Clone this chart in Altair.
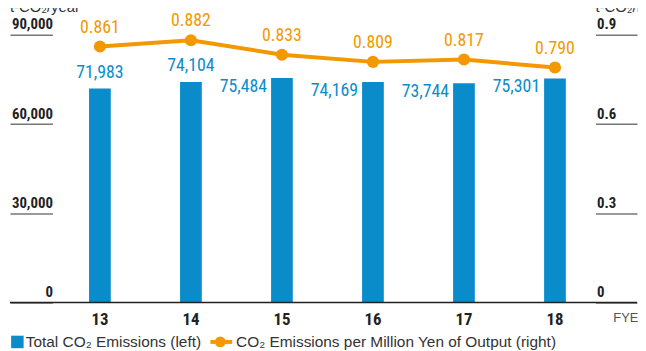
import altair as alt
import pandas as pd

years = ["13", "14", "15", "16", "17", "18"]
emissions = [71983, 74104, 75484, 74169, 73744, 75301]
intensity = [0.861, 0.882, 0.833, 0.809, 0.817, 0.790]
label_above = ["13", "14"]

left_ticks = [0, 30000, 60000, 90000]
right_ticks = [0, 0.3, 0.6, 0.9]
unit_left = "t-CO₂/year"
unit_right = "t-CO₂/million yen"
x_title = "FYE"
legend_bar = "Total CO₂ Emissions (left)"
legend_line = "CO₂ Emissions per Million Yen of Output (right)"

BLUE = "#0a8ccb"
ORANGE = "#f39800"
COND = "Liberation Sans Narrow, Roboto Condensed, DejaVu Sans Condensed, Roboto, sans-serif"
REG = "Liberation Sans, Helvetica, Arial, sans-serif"

df = pd.DataFrame({"year": years, "emissions": emissions, "intensity": intensity})
df["emis_label"] = [f"{v:,}" for v in emissions]
df["int_label"] = [f"{v:.3f}" for v in intensity]

W, H = 553, 271
base = alt.Chart(df)

x = alt.X("year:N", sort=years, title=None,
          axis=alt.Axis(labelFont=COND, labelFontSize=17, labelFontWeight="bold",
                        labelColor="#222", labelPadding=9, ticks=False, domain=False,
                        labelAngle=0),
          scale=alt.Scale(paddingInner=0, paddingOuter=0))

y_left = alt.Y("emissions:Q", title=None,
               scale=alt.Scale(domain=[0, 90000], nice=False),
               axis=alt.Axis(values=left_ticks, format=",d", orient="left", domain=False,
                             grid=False, tickSize=43, tickColor="#777", tickWidth=1.5,
                             offset=2, labelPadding=-43, labelAlign="right",
                             labelBaseline="bottom", labelOffset=-3,
                             labelFont=COND, labelFontSize=15, labelFontWeight="bold",
                             labelColor="#222"))

bars = base.mark_bar(color=BLUE, size=22).encode(x=x, y=y_left)
bar_text_above = base.transform_filter(
    alt.FieldOneOfPredicate(field="year", oneOf=label_above)
).mark_text(color=BLUE, font=COND, fontSize=18, baseline="bottom", dy=-7).encode(
    x=alt.X("year:N", sort=years), y="emissions:Q", text="emis_label:N")
bar_text_left = base.transform_filter(
    ~alt.FieldOneOfPredicate(field="year", oneOf=label_above)
).mark_text(color=BLUE, font=COND, fontSize=18, baseline="top", align="right",
            dx=-15, dy=0).encode(
    x=alt.X("year:N", sort=years), y="emissions:Q", text="emis_label:N")

left_layer = alt.layer(bars, bar_text_above, bar_text_left)

y_right = alt.Y("intensity:Q", title=None,
                scale=alt.Scale(domain=[0, 0.9], nice=False),
                axis=alt.Axis(values=right_ticks, format=".1f", orient="right", domain=False,
                              grid=False, tickSize=42, tickColor="#777", tickWidth=1.5,
                              offset=-5, labelPadding=-41, labelAlign="left",
                              labelBaseline="bottom", labelOffset=-3,
                              labelExpr="datum.value == 0 ? '0' : datum.label",
                              labelFont=COND, labelFontSize=15, labelFontWeight="bold",
                              labelColor="#222"))

line = base.mark_line(color=ORANGE, strokeWidth=4).encode(
    x=alt.X("year:N", sort=years), y=y_right)
points = base.mark_point(color=ORANGE, filled=True, opacity=1, size=150).encode(
    x=alt.X("year:N", sort=years), y="intensity:Q")
line_text = base.mark_text(color=ORANGE, font=COND, fontSize=18, baseline="bottom",
                           dy=-10).encode(
    x=alt.X("year:N", sort=years), y="intensity:Q", text="int_label:N")

right_layer = alt.layer(line, points, line_text)

deco = alt.Chart(pd.DataFrame({"d": [0]}))
baseline = deco.mark_rule(color="#222", strokeWidth=1.5).encode(
    x=alt.value(-45), x2=alt.value(590), y=alt.value(H))
fye = deco.mark_text(text=x_title, font=REG, fontSize=13, color="#555",
                     align="left", baseline="middle").encode(
    x=alt.value(566), y=alt.value(287))
unit_l = deco.mark_text(text=unit_left, font=REG, fontSize=15, color="#333",
                        align="left", baseline="alphabetic").encode(
    x=alt.value(-45), y=alt.value(-23))
unit_r = deco.mark_text(text=unit_right, font=REG, fontSize=15, color="#333",
                        align="left", baseline="alphabetic").encode(
    x=alt.value(548), y=alt.value(-23))
leg_sq = deco.mark_point(shape="square", filled=True, color=BLUE, opacity=1,
                         size=160).encode(x=alt.value(-37.5), y=alt.value(311))
leg_t1 = deco.mark_text(text=legend_bar, font=REG, fontSize=15.6, color="#333",
                        align="left", baseline="middle").encode(
    x=alt.value(-29), y=alt.value(311))
leg_ln = deco.mark_rule(color=ORANGE, strokeWidth=4).encode(
    x=alt.value(158), x2=alt.value(180), y=alt.value(311))
leg_pt = deco.mark_point(shape="circle", filled=True, color=ORANGE, opacity=1,
                         size=120).encode(x=alt.value(168), y=alt.value(311))
leg_t2 = deco.mark_text(text=legend_line, font=REG, fontSize=15.6, color="#333",
                        align="left", baseline="middle").encode(
    x=alt.value(184), y=alt.value(311))

chart = alt.layer(
    left_layer, right_layer, baseline, fye, unit_l, unit_r,
    leg_sq, leg_t1, leg_ln, leg_pt, leg_t2
).resolve_scale(y="independent").properties(
    width=W, height=H,
    autosize=alt.AutoSizeParams(type="none"),
    padding={"left": 47, "top": 25, "right": 38, "bottom": 47},
).configure_view(stroke=None)

chart.save("out.html", embed_options={"renderer": "svg", "actions": False})
